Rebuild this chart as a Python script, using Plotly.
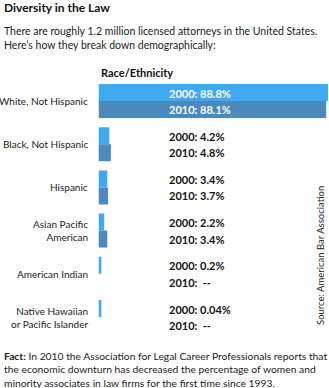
import plotly.graph_objects as go
import numpy as np

categories = ["White, Not Hispanic", "Black, Not Hispanic", "Hispanic",
              "Asian Pacific<br>American", "American Indian",
              "Native Hawaiian<br>or Pacific Islander"]
cat_keys = ["white", "black", "hispanic", "asian", "amind", "nhpi"]
vals_2000 = [88.8, 4.2, 3.4, 2.2, 0.2, 0.04]
vals_2010 = [88.1, 4.8, 3.7, 3.4, None, None]
labels_2000 = ["88.8%", "4.2%", "3.4%", "2.2%", "0.2%", "0.04%"]
labels_2010 = ["88.1%", "4.8%", "3.7%", "3.4%", "--", "--"]

LIGHT = "#40A9F4"
DARK = "#4A8ABD"
FONT = "Lato"
W, H = 329, 388

MIN_VIS = 1.1  # minimum visible bar length (styling)
def vis(v):
    return [None if x is None else max(x, MIN_VIS) for x in v]

fig = go.Figure()
fig.add_trace(go.Bar(y=cat_keys, x=vis(vals_2000), orientation="h",
                     marker=dict(color=LIGHT, line=dict(width=0)), name="2000",
                     hoverinfo="skip"))
fig.add_trace(go.Bar(y=cat_keys, x=vis(vals_2010), orientation="h",
                     marker=dict(color=DARK, line=dict(width=0)), name="2010",
                     hoverinfo="skip"))

def px(x):
    return x / W
def py(y):
    return 1 - y / H

annotations = []
# title and intro
annotations.append(dict(text="<b>Diversity in the Law</b>", x=px(2), y=py(7), xref="paper", yref="paper",
                        xanchor="left", yanchor="middle", showarrow=False,
                        font=dict(family=FONT, size=12, color="#111")))
annotations.append(dict(text="There are roughly 1.2 million licensed attorneys in the United States.<br>Here’s how they break down demographically:",
                        x=px(2), y=py(38.5), xref="paper", yref="paper", xanchor="left", yanchor="middle",
                        align="left", showarrow=False, font=dict(family=FONT, size=10.5, color="#222")))
annotations.append(dict(text="<b>Race/Ethnicity</b>", x=px(99), y=py(72), xref="paper", yref="paper",
                        xanchor="left", yanchor="middle", showarrow=False,
                        font=dict(family=FONT, size=11, color="#111")))
# category labels & value labels
for i, key in enumerate(cat_keys):
    annotations.append(dict(text=categories[i], x=px(90), y=key, xref="paper", yref="y",
                            xanchor="right", yanchor="middle", align="right", showarrow=False,
                            font=dict(family=FONT, size=10, color="#222")))
    col = "white" if i == 0 else "#111"
    annotations.append(dict(text="<b>2000: " + labels_2000[i] + "</b>", x=px(167), y=key,
                            xref="paper", yref="y", xanchor="left", yanchor="middle",
                            yshift=8, showarrow=False, font=dict(family=FONT, size=11, color=col)))
    lab10 = labels_2010[i] if labels_2010[i] != "--" else "&nbsp;--"
    annotations.append(dict(text="<b>2010: " + lab10 + "</b>", x=px(167), y=key,
                            xref="paper", yref="y", xanchor="left", yanchor="middle",
                            yshift=-8.5, showarrow=False, font=dict(family=FONT, size=11, color=col)))
# source
annotations.append(dict(text="Source: American Bar Association", x=px(320), y=py(256), xref="paper", yref="paper",
                        xanchor="center", yanchor="middle", textangle=-90, showarrow=False,
                        font=dict(family=FONT, size=9.5, color="#222")))
# fact
annotations.append(dict(text="<b>Fact:</b> In 2010 the Association for Legal Career Professionals reports that<br>the economic downturn has decreased the percentage of women and<br>minority associates in law firms for the first time since 1993.",
                        x=px(2), y=py(369), xref="paper", yref="paper", xanchor="left", yanchor="middle",
                        align="left", showarrow=False, font=dict(family=FONT, size=10.3, color="#222")))

top_px, bot_px = 79.4, 338.6
fig.update_layout(
    width=W, height=H, margin=dict(l=0, r=0, t=0, b=0),
    paper_bgcolor="white", plot_bgcolor="white",
    barmode="group", bargap=0.213, bargroupgap=0,
    showlegend=False,
    xaxis=dict(domain=[px(98.5), px(328)], range=[0, 88.8], visible=False, fixedrange=True),
    yaxis=dict(domain=[py(bot_px), py(top_px)], autorange="reversed", visible=False,
               categoryorder="array", categoryarray=cat_keys, fixedrange=True),
    annotations=annotations,
)
fig.write_html("out.html", config={"displayModeBar": False})
